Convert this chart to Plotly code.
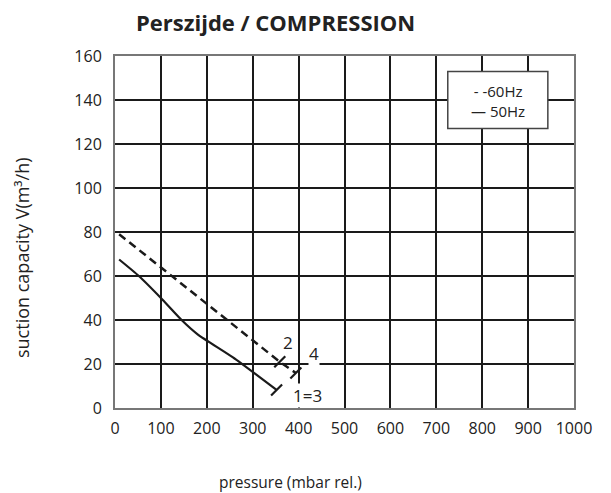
import plotly.graph_objects as go

# 60 Hz curve (dashed)
p60 = [9, 120, 200, 300, 359, 394]
v60 = [79, 60.7, 47.5, 31, 21, 15.9]
# 50 Hz curve (solid)
p50 = [9, 52, 100, 145, 180, 257, 352]
v50 = [67.5, 60, 50, 40, 33.5, 23, 8.2]
# end markers
mark60_p = [359, 394]
mark60_v = [21, 15.9]
mark50_p = [352]
mark50_v = [8.2]

x_ticks = list(range(0, 1001, 100))
y_ticks = list(range(0, 161, 20))

FONT = "Open Sans"
INK = "#1a1a1a"

# page has an 8px body margin; compensate so the plot area sits at 115..574 x 56..408
OFF = 8
W, H = 611 - OFF, 493 - OFF
L, R, T, B = 115 - OFF, 611 - 574, 56 - OFF, 493 - 408
PW, PH = 574 - 115, 408 - 56


def px(x):
    return (x - 115) / PW


def py(y):
    return (408 - y) / PH


fig = go.Figure()
fig.add_trace(go.Scatter(x=p60, y=v60, mode="lines",
                         line=dict(color=INK, width=2.5, dash="8px,5px"),
                         showlegend=False))
fig.add_trace(go.Scatter(x=p50, y=v50, mode="lines", line_shape="spline",
                         line=dict(color=INK, width=2.2, smoothing=0.6),
                         showlegend=False))
fig.add_trace(go.Scatter(x=mark60_p + mark50_p, y=mark60_v + mark50_v, mode="markers",
                         marker=dict(symbol="line-ne", size=11,
                                     line=dict(color=INK, width=2.2)),
                         showlegend=False))

fig.update_layout(
    width=W, height=H,
    margin=dict(l=L, r=R, t=T, b=B),
    paper_bgcolor="white", plot_bgcolor="white",
    font=dict(family=FONT, color="#222", size=16),
    xaxis=dict(range=[0, 1000], tickvals=x_ticks, ticktext=[str(v) for v in x_ticks],
               showgrid=True, gridcolor=INK, gridwidth=2,
               showline=True, linecolor="#777", linewidth=2, mirror=True,
               zeroline=False, ticks="", ticklen=0, tickfont=dict(size=16),
               ticklabelstandoff=5),
    yaxis=dict(range=[0, 160], tickvals=y_ticks, ticktext=[str(v) for v in y_ticks],
               showgrid=True, gridcolor=INK, gridwidth=2,
               showline=True, linecolor="#777", linewidth=2, mirror=True,
               zeroline=False, ticks="", ticklen=0, tickfont=dict(size=16),
               ticklabelstandoff=8),
    shapes=[dict(type="rect", xref="x", yref="y", x0=725, x1=943, y0=127, y1=153,
                 fillcolor="white", line=dict(color="#444", width=1.5), layer="above")],
)

ann = [
    dict(text="<b>Perszijde / COMPRESSION</b>", xref="paper", yref="paper",
         x=px(275), y=py(22), showarrow=False,
         font=dict(size=22, family=FONT, color="#222"), xanchor="center", yanchor="middle"),
    dict(text="suction capacity V(m³/h)", xref="paper", yref="paper",
         x=px(22), y=py(258), textangle=-90, showarrow=False,
         font=dict(size=18, family=FONT, color="#222"), xanchor="center", yanchor="middle"),
    dict(text="pressure (mbar rel.)", xref="paper", yref="paper",
         x=px(290), y=py(482), showarrow=False,
         font=dict(size=15.5, family=FONT, color="#222"), xanchor="center", yanchor="middle"),
    dict(text="- -60Hz<br>— 50Hz", x=834, y=139.5, xref="x", yref="y", showarrow=False,
         align="center", xanchor="center", yanchor="middle",
         font=dict(size=15, family=FONT, color="#222")),
    dict(text="2", x=377, y=29.7, xref="x", yref="y", showarrow=False, bgcolor="white",
         borderpad=0, font=dict(size=17, family=FONT, color="#222")),
    dict(text="4", x=434, y=25, xref="x", yref="y", showarrow=False, bgcolor="white",
         borderpad=0, font=dict(size=17, family=FONT, color="#222")),
    dict(text="1=3", x=420, y=5.9, xref="x", yref="y", showarrow=False, bgcolor="white",
         borderpad=0, font=dict(size=17, family=FONT, color="#222")),
]
fig.update_layout(annotations=ann)

fig.write_html("out.html")
